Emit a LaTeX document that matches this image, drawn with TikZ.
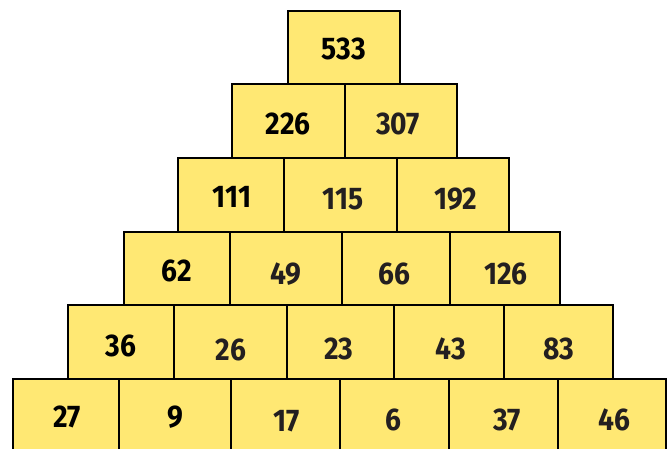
\documentclass[tikz,border=0pt]{standalone}
\usepackage{fontspec}
\setmainfont[FakeStretch=0.9]{Fira Sans}
\definecolor{pyryellow}{RGB}{255,232,115}
\definecolor{pyrink}{RGB}{35,31,32}
\begin{document}
\begin{tikzpicture}[x=0.75pt, y=-0.75pt,
    cell/.style={fill=pyryellow, draw=black, line width=1.7pt},
    given/.style={font=\bfseries\fontsize{23.5}{28}\selectfont, text=black, inner sep=0pt},
    calc/.style={font=\bfseries\fontsize{23.5}{28}\selectfont, text=pyrink, inner sep=0pt}]
    \clip (0,0) rectangle (667,449);
    % row 1
    \draw[cell] (288,11) rectangle (400,84);
    \node[given] (top) at (344,49) {533};
    % row 2
    \draw[cell] (232,84) rectangle (345,158);
    \draw[cell] (345,84) rectangle (457,158);
    \node[given] (b1) at (288,124) {226};
    \node[calc] (b2) at (398,124) {307};
    % row 3
    \draw[cell] (178,158) rectangle (284,232);
    \draw[cell] (284,158) rectangle (397,232);
    \draw[cell] (397,158) rectangle (509,232);
    \node[given] (c1) at (232,197) {111};
    \node[calc] (c2) at (343,199) {115};
    \node[calc] (c3) at (456,199) {192};
    % row 4
    \draw[cell] (124,232) rectangle (230,305);
    \draw[cell] (230,232) rectangle (342,305);
    \draw[cell] (342,232) rectangle (450,305);
    \draw[cell] (450,232) rectangle (560,305);
    \node[given] (d1) at (177,271) {62};
    \node[calc] (d2) at (286,274) {49};
    \node[calc] (d3) at (394,274) {66};
    \node[calc] (d4) at (506,274) {126};
    % row 5
    \draw[cell] (68,305) rectangle (174,379);
    \draw[cell] (174,305) rectangle (287,379);
    \draw[cell] (287,305) rectangle (394,379);
    \draw[cell] (394,305) rectangle (504,379);
    \draw[cell] (504,305) rectangle (613,379);
    \node[given] (e1) at (121,346) {36};
    \node[calc] (e2) at (231,350) {26};
    \node[calc] (e3) at (339,349) {23};
    \node[calc] (e4) at (451,349) {43};
    \node[calc] (e5) at (559,349) {83};
    % row 6 (bottom, cut off)
    \draw[cell] (13,379) rectangle (119,470);
    \draw[cell] (119,379) rectangle (231,470);
    \draw[cell] (231,379) rectangle (340,470);
    \draw[cell] (340,379) rectangle (449,470);
    \draw[cell] (449,379) rectangle (558,470);
    \draw[cell] (558,379) rectangle (666,470);
    \node[given] (f1) at (67,417) {27};
    \node[given] (f2) at (175,417) {9};
    \node[calc] (f3) at (287,421) {17};
    \node[calc] (f4) at (393,420) {6};
    \node[calc] (f5) at (507,420) {37};
    \node[calc] (f6) at (614,420) {46};
\end{tikzpicture}
\end{document}
